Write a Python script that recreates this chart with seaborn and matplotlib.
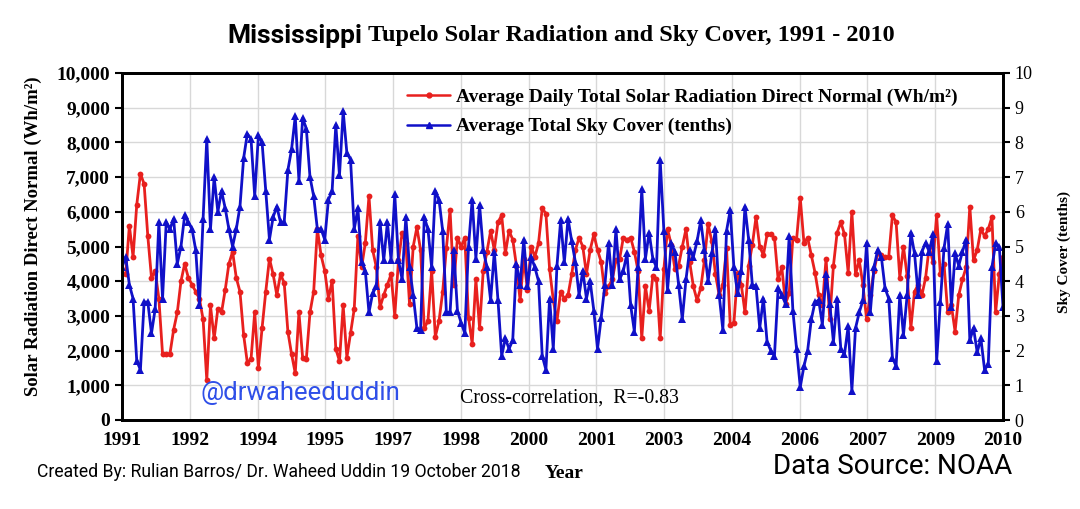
import numpy as np
import pandas as pd
import matplotlib
matplotlib.use("Agg")
import matplotlib.pyplot as plt
import seaborn as sns
from matplotlib.lines import Line2D

# monthly values, one row per year (Jan..Dec), 1991-2010
solar_rad = [  # Wh/m2
    4200, 4200, 5600, 4700, 6200, 7100, 6800, 5300, 4100, 4300, 3500, 1900,
    1900, 1900, 2600, 3100, 4000, 4500, 4100, 3900, 3700, 3500, 2900, 1150,
    3300, 2350, 3200, 3100, 3750, 4500, 4850, 4100, 3700, 2450, 1650, 1750,
    3100, 1500, 2650, 3700, 4650, 4200, 3600, 4200, 3950, 2550, 1900, 1350,
    3100, 1800, 1750, 3100, 3700, 5500, 4750, 4300, 3500, 4000, 2050, 1700,
    3300, 1800, 2500, 3200, 5300, 4400, 5100, 6450, 4900, 4400, 3250, 3600,
    3900, 4200, 3000, 4600, 5400, 5100, 3350, 5000, 5550, 4900, 2650, 2850,
    4300, 2400, 2850, 3700, 4950, 6050, 3900, 5250, 5000, 5250, 2950, 2200,
    4050, 2650, 4300, 4850, 5450, 4900, 5700, 5900, 4800, 5450, 5200, 4450,
    3450, 4650, 3750, 5000, 4700, 5100, 6100, 5950, 4350, 3450, 2850, 3700,
    3500, 3600, 4200, 4900, 5250, 5000, 4200, 4900, 5350, 4900, 4550, 3650,
    3850, 4050, 4600, 4650, 5250, 5200, 5250, 4850, 4300, 2350, 3850, 3150,
    4150, 4050, 2350, 4350, 5500, 5050, 4350, 4450, 5000, 5500, 4550, 3850,
    3450, 3800, 4600, 5650, 5150, 4200, 3600, 3900, 4950, 2750, 2800, 4250,
    3900, 3100, 4450, 5050, 5850, 5000, 4750, 5350, 5350, 5250, 4050, 4400,
    3350, 3650, 5250, 5200, 6400, 5100, 5250, 4750, 4250, 3600, 3300, 4650,
    2900, 4450, 5400, 5700, 5350, 4250, 6000, 4200, 4600, 3900, 2900, 3600,
    4300, 4800, 4750, 4700, 4700, 5900, 5700, 4100, 5000, 4150, 2650, 3700,
    3900, 3600, 4100, 5000, 4550, 5900, 4200, 4500, 3100, 3300, 2550, 3600,
    4050, 4400, 6150, 4600, 4900, 5500, 5300, 5500, 5850, 3100, 4200, 4700,
]
sky_cover = [  # tenths
    4.4, 4.7, 3.9, 3.5, 1.7, 1.45, 3.4, 3.4, 2.5, 3.2, 5.7, 3.5,
    5.7, 5.5, 5.8, 4.5, 5.0, 5.9, 5.7, 5.5, 4.9, 3.3, 5.8, 8.1,
    5.5, 7.0, 6.0, 6.6, 6.1, 5.5, 5.0, 5.5, 6.15, 7.55, 8.25, 8.1,
    6.45, 8.2, 8.0, 6.6, 5.2, 5.85, 6.15, 5.7, 5.7, 7.2, 7.8, 8.75,
    6.9, 8.7, 8.4, 7.0, 6.45, 5.5, 5.5, 5.2, 6.35, 6.6, 8.5, 7.05,
    8.9, 7.7, 7.5, 5.5, 6.1, 4.55, 4.3, 3.1, 3.65, 3.85, 5.7, 4.6,
    5.7, 4.6, 6.5, 4.6, 4.05, 5.85, 4.4, 3.6, 2.65, 2.6, 5.85, 5.5,
    4.4, 6.6, 6.35, 5.45, 3.1, 3.1, 4.9, 3.15, 2.8, 2.5, 5.0, 6.35,
    4.65, 6.2, 4.9, 4.4, 3.45, 4.85, 3.45, 1.85, 2.35, 2.05, 2.3, 4.5,
    3.9, 5.2, 3.85, 4.7, 4.4, 4.0, 1.85, 1.45, 3.5, 2.05, 4.45, 5.75,
    4.55, 5.8, 5.15, 4.55, 3.6, 4.3, 3.5, 4.0, 3.15, 2.05, 2.95, 3.9,
    5.1, 3.9, 5.5, 4.05, 4.3, 4.8, 3.3, 2.55, 4.4, 6.65, 4.65, 5.4,
    4.65, 4.4, 7.5, 5.45, 3.75, 5.1, 4.85, 3.9, 2.9, 4.05, 4.9, 4.7,
    5.15, 5.75, 4.9, 4.0, 4.8, 5.5, 3.6, 2.6, 5.45, 6.05, 4.4, 3.65,
    4.3, 6.15, 5.2, 3.9, 3.85, 2.65, 3.5, 2.25, 2.0, 1.85, 3.8, 3.6,
    3.35, 5.3, 3.15, 2.05, 0.95, 1.55, 2.0, 2.9, 3.4, 3.45, 2.75, 4.2,
    3.35, 2.25, 3.5, 2.05, 1.9, 2.7, 0.85, 2.65, 3.1, 3.45, 5.1, 3.1,
    4.4, 4.9, 4.7, 3.8, 3.5, 1.8, 1.55, 3.6, 2.45, 3.6, 5.4, 4.8,
    3.6, 4.85, 5.1, 4.85, 5.35, 1.7, 3.4, 4.95, 5.65, 3.25, 4.8, 4.45,
    4.85, 5.2, 2.3, 2.65, 1.95, 2.35, 1.45, 1.6, 4.4, 5.1, 5.0, 3.25,
]
year_labels = ['1991', '1992', '1994', '1995', '1997', '1998', '2000',
               '2001', '2003', '2004', '2006', '2007', '2009', '2010']

RED = '#e8201e'
BLUE = '#1010c8'

df = pd.DataFrame({'month': np.arange(len(solar_rad)),
                   'solar': solar_rad, 'sky': sky_cover})

sns.set_style('white')
plt.rcParams['font.family'] = ['Liberation Serif', 'DejaVu Serif']
plt.rcParams['text.color'] = 'black'
plt.rcParams['xtick.color'] = 'black'
plt.rcParams['ytick.color'] = 'black'

W, H = 1080, 509
fig = plt.figure(figsize=(W / 100, H / 100), dpi=100)
ax = fig.add_axes([122 / W, 1 - 420 / H, (1003 - 122) / W, (420 - 73) / H])
ax2 = ax.twinx()

sns.lineplot(data=df, x='month', y='solar', ax=ax, color=RED, marker='o',
             markersize=4.2, markeredgewidth=0, linewidth=2, legend=False)
sns.lineplot(data=df, x='month', y='sky', ax=ax2, color=BLUE, marker='^',
             markersize=5.2, markeredgewidth=0, linewidth=2, legend=False)

n = len(solar_rad)
ax.set_xlim(0, n - 1)
ax.set_ylim(0, 10000)
ax2.set_ylim(0, 10)
ax.set_xticks(np.linspace(0, n - 1, len(year_labels)))
ax.set_xticklabels(year_labels, fontsize=14, fontweight='bold')
ax.set_yticks(range(0, 10001, 1000))
ax.set_yticklabels([f'{v:,}' for v in range(0, 10001, 1000)],
                   fontsize=14, fontweight='bold')
ax2.set_yticks(range(0, 11))
ax2.set_yticklabels([str(v) for v in range(0, 11)], fontsize=13)
ax.set_xlabel('')
ax.set_ylabel('')
ax2.set_ylabel('')

ax.grid(True, color='#d8d8d8', linewidth=1)
ax.set_axisbelow(True)
for a in (ax, ax2):
    for s in a.spines.values():
        s.set_linewidth(2)
        s.set_color('black')
    a.tick_params(direction='out', length=5, width=1.5, colors='black')

handles = [Line2D([], [], color=RED, marker='o', markersize=3.5, lw=1.8),
           Line2D([], [], color=BLUE, marker='^', markersize=4, lw=1.8)]
ax2.legend(handles,
           ['Average Daily Total Solar Radiation Direct Normal (Wh/m\u00b2)',
            'Average Total Sky Cover (tenths)'],
           loc='upper left', bbox_to_anchor=(0.304, 1.006), frameon=False,
           handlelength=2.2, handletextpad=0.3, labelspacing=0.6,
           prop={'family': 'Liberation Serif', 'weight': 'bold', 'size': 14})

fig.text(33 / W, 1 - 236 / H, 'Solar Radiation Direct Normal (Wh/m\u00b2)',
         rotation=90, ha='center', va='center', fontsize=13.5, fontweight='bold')
fig.text(1064 / W, 1 - 252 / H, 'Sky Cover (tenths)', rotation=90,
         ha='center', va='center', fontsize=11, fontweight='bold')

fig.text(362 / W, 1 - 36 / H, 'Mississippi', ha='right', va='center',
         fontsize=19, fontweight='bold', family='Roboto')
fig.text(368 / W, 1 - 36 / H, 'Tupelo Solar Radiation and Sky Cover, 1991 - 2010',
         ha='left', va='center', fontsize=17.5, fontweight='bold')

fig.text(200 / W, 1 - 393 / H, '@drwaheeduddin', ha='left', va='center',
         fontsize=18.5, color='#2f4fe8', family='Roboto')
fig.text(460 / W, 1 - 398 / H, 'Cross-correlation,  R=-0.83', ha='left',
         va='center', fontsize=14.3)

fig.text(37 / W, 1 - 472 / H,
         'Created By: Rulian Barros/ Dr. Waheed Uddin 19 October 2018',
         ha='left', va='center', fontsize=12.7, family='Roboto')
fig.text(564 / W, 1 - 473 / H, 'Year', ha='center', va='center',
         fontsize=14, fontweight='bold')
fig.text(773 / W, 1 - 466 / H, 'Data Source: NOAA', ha='left', va='center',
         fontsize=20, family='Roboto')

fig.savefig('out.png', dpi=100)
